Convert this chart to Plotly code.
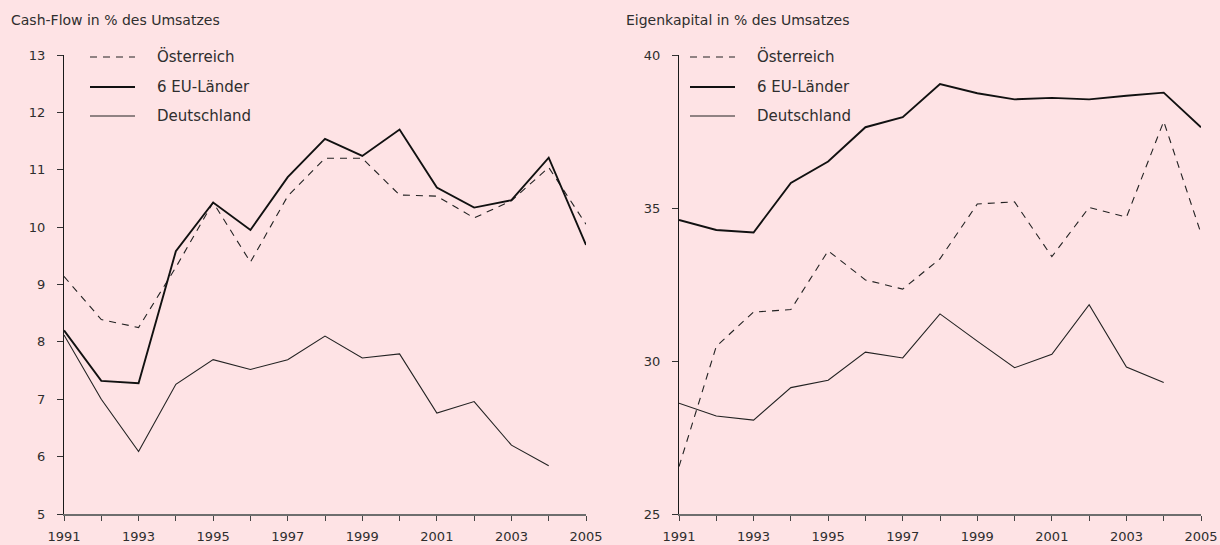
import plotly.graph_objects as go

years = list(range(1991, 2006))

# Cash-Flow in % des Umsatzes
cf_at = [9.14, 8.39, 8.25, 9.3, 10.43, 9.39, 10.54, 11.2, 11.2, 10.56, 10.54, 10.16, 10.46, 11.04, 10.05]
cf_eu = [8.2, 7.32, 7.28, 9.58, 10.43, 9.95, 10.87, 11.54, 11.24, 11.7, 10.69, 10.34, 10.47, 11.21, 9.69]
cf_de = [8.12, 7.0, 6.09, 7.26, 7.69, 7.52, 7.69, 8.1, 7.72, 7.79, 6.76, 6.96, 6.2, 5.84, None]

# Eigenkapital in % des Umsatzes
ek_at = [26.55, 30.48, 31.6, 31.68, 33.6, 32.65, 32.35, 33.34, 35.13, 35.2, 33.41, 35.02, 34.7, 37.83, 34.17]
ek_eu = [34.61, 34.28, 34.2, 35.82, 36.52, 37.64, 37.97, 39.05, 38.75, 38.55, 38.6, 38.55, 38.67, 38.77, 37.64]
ek_de = [28.62, 28.2, 28.07, 29.13, 29.37, 30.29, 30.1, 31.54, 30.65, 29.78, 30.22, 31.84, 29.8, 29.3, None]

series_names = ["Österreich", "6 EU-Länder", "Deutschland"]
titles = ["Cash-Flow in % des Umsatzes", "Eigenkapital in % des Umsatzes"]
x_ticks = [1991, 1993, 1995, 1997, 1999, 2001, 2003, 2005]
y_ticks_left = [5, 6, 7, 8, 9, 10, 11, 12, 13]
y_ticks_right = [25, 30, 35, 40]

W, H = 1220, 545
BG = "#fee3e5"
FONT = "DejaVu Sans"
TXT = "#2e2e2e"

styles = [
    dict(color="#222222", width=1.1, dash="7px,6px"),
    dict(color="#111111", width=1.9),
    dict(color="#222222", width=1.1),
]

def px(x):
    return x / W

def py(y):
    return 1 - y / H

fig = go.Figure()
data_sets = [(cf_at, cf_eu, cf_de), (ek_at, ek_eu, ek_de)]
for i, ds in enumerate(data_sets):
    xa = "x" if i == 0 else "x2"
    ya = "y" if i == 0 else "y2"
    for name, vals, st in zip(series_names, ds, styles):
        fig.add_trace(go.Scatter(x=years, y=vals, mode="lines", name=name,
                                 line=st, xaxis=xa, yaxis=ya, showlegend=False,
                                 connectgaps=False))

ydom = [py(514), py(55)]
common_x = dict(range=[1991, 2005], tickvals=x_ticks, ticktext=[str(t) for t in x_ticks],
                showline=True, linecolor="#6e6e6e", linewidth=2, ticks="outside",
                ticklen=5, tickcolor="#444444", tickwidth=1.2, ticklabelstandoff=4,
                minor=dict(dtick=1, tick0=1991, ticks="outside", ticklen=5,
                           tickcolor="#444444", tickwidth=1.2, showgrid=False),
                showgrid=False, zeroline=False, automargin=False,
                tickfont=dict(family=FONT, size=13, color=TXT))
common_y = dict(showline=True, linecolor="#1a1a1a", linewidth=1.4, ticks="outside",
                ticklen=6, tickcolor="#333333", tickwidth=1.1, showgrid=False,
                zeroline=False, automargin=False, ticklabelstandoff=9,
                tickfont=dict(family=FONT, size=13, color=TXT))

fig.update_layout(
    width=W, height=H, autosize=False,
    margin=dict(l=0, r=0, t=0, b=0, pad=0, autoexpand=False),
    paper_bgcolor=BG, plot_bgcolor=BG,
    xaxis=dict(domain=[px(64), px(586)], anchor="y", **common_x),
    yaxis=dict(domain=ydom, anchor="x", range=[5, 13], tickvals=y_ticks_left, **common_y),
    xaxis2=dict(domain=[px(679), px(1201)], anchor="y2", **common_x),
    yaxis2=dict(domain=ydom, anchor="x2", range=[25, 40], tickvals=y_ticks_right, **common_y),
    showlegend=False,
)

# titles
for t, x0 in zip(titles, [9, 624]):
    fig.add_annotation(text=t, x=px(x0), y=py(20), xref="paper", yref="paper",
                       xanchor="left", yanchor="middle", showarrow=False,
                       font=dict(family=FONT, size=14, color=TXT))

# manual legends
legend_rows = [57, 87, 116]
for (l0, l1, tx) in [(90, 135, 155), (690, 735, 755)]:
    for name, st, yy in zip(series_names, styles, legend_rows):
        fig.add_shape(type="line", x0=px(l0), x1=px(l1), y0=py(yy), y1=py(yy),
                      xref="paper", yref="paper", line=st)
        fig.add_annotation(text=name, x=px(tx), y=py(yy), xref="paper", yref="paper",
                           xanchor="left", yanchor="middle", showarrow=False,
                           font=dict(family=FONT, size=15, color=TXT))

fig.write_html(
    "out.html",
    config={"responsive": False, "displayModeBar": False},
    post_script="document.body.style.margin='0';document.body.style.overflow='hidden';"
                "document.documentElement.style.overflow='hidden';"
                "document.body.style.background='" + BG + "';",
)
